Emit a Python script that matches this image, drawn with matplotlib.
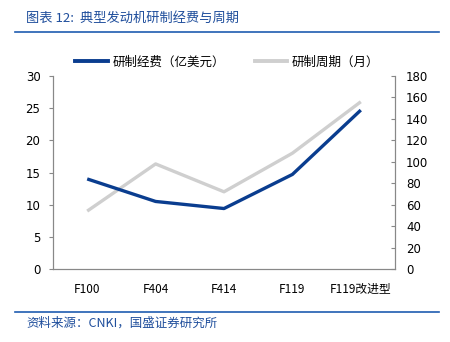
import matplotlib.pyplot as plt
from matplotlib.lines import Line2D

plt.rcParams['font.family'] = ['DejaVu Sans', 'Noto Sans CJK SC']
plt.rcParams['figure.dpi'] = 100

engines = ['F100', 'F404', 'F414', 'F119', 'F119改进型']
cost = [14.0, 10.5, 9.4, 14.7, 24.7]        # 研制经费（亿美元）
period = [54, 98, 72, 108, 156]             # 研制周期（月）

blue = '#0a3d8f'
grey = '#cfcfcf'
cjk = ['Noto Sans CJK SC', 'DejaVu Sans']

fig = plt.figure(figsize=(4.5, 3.42))
ax = fig.add_axes([53 / 450, 1 - 269 / 342, 342 / 450, 193 / 342])
ax2 = ax.twinx()

x = list(range(len(engines)))
ax2.plot(x, period, color=grey, lw=2.4, solid_capstyle='butt')
ax.plot(x, cost, color=blue, lw=2.4, solid_capstyle='butt')
ax.set_zorder(ax2.get_zorder() + 1)
ax.patch.set_visible(False)

ax.set_xlim(-0.5, 4.5)
ax.set_ylim(0, 30)
ax.set_yticks(range(0, 31, 5))
ax2.set_ylim(0, 180)
ax2.set_yticks(range(0, 181, 20))
ax.set_xticks(x)
ax.set_xticklabels(engines, fontsize=8.5, family=cjk)
ax.tick_params(axis='x', length=0, pad=10)
ax.tick_params(axis='y', labelsize=8.5, length=3, color='#888888', pad=6)
ax2.tick_params(axis='y', labelsize=8.5, length=3, color='#888888', direction='in', pad=8)

for a in (ax, ax2):
    a.spines['top'].set_visible(False)
    for side in ('left', 'right', 'bottom'):
        a.spines[side].set_color('#888888')
        a.spines[side].set_linewidth(0.8)

handles = [Line2D([], [], color=blue, lw=2.8), Line2D([], [], color=grey, lw=2.8)]
fig.legend(handles, ['研制经费（亿美元）', '研制周期（月）'], loc='center',
           bbox_to_anchor=(0.505, 1 - 62 / 342), ncol=2, frameon=False,
           prop={'family': cjk, 'size': 9}, handlelength=2.6, handletextpad=0.35,
           columnspacing=2.4)

# header and footer
fig.text(26 / 450, 1 - 18 / 342, '图表 12:  典型发动机研制经费与周期', color='#1f4e9c',
         fontsize=9.5, family=cjk, va='center', style='italic')
fig.add_artist(Line2D([15 / 450, 439 / 450], [1 - 32 / 342] * 2, color='#1f5cb0', lw=1.2))
fig.add_artist(Line2D([15 / 450, 439 / 450], [1 - 312 / 342] * 2, color='#1f5cb0', lw=1.2))
fig.text(26 / 450, 1 - 323 / 342, '资料来源：CNKI，国盛证券研究所', color='#1f4e9c',
         fontsize=9, family=cjk, va='center', style='italic')

fig.savefig('out.png', dpi=100)
